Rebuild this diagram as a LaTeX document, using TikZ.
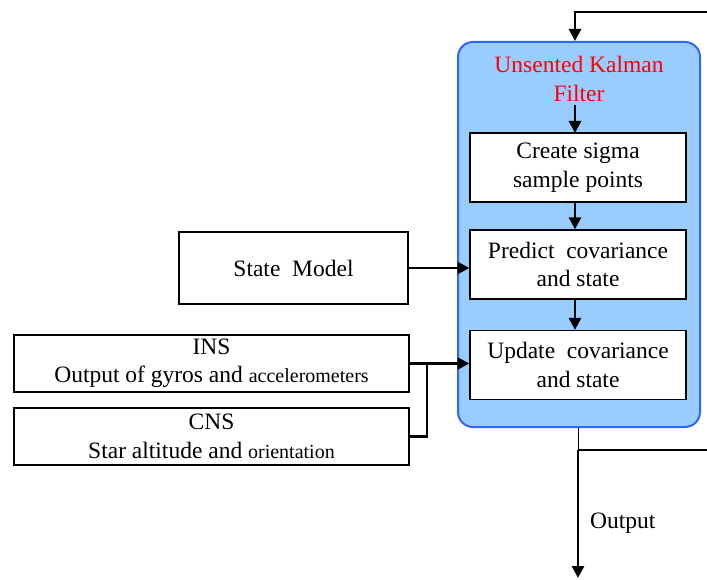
\documentclass[tikz,border=0pt]{standalone}
\usepackage{fontspec}
\setmainfont{Liberation Serif}
\usetikzlibrary{arrows.meta}
\definecolor{ukffill}{HTML}{99CCFF}
\definecolor{ukfdraw}{HTML}{3366FF}
\tikzset{
  txt/.style={font=\fontsize{23.5}{28.5}\selectfont, align=center},
  innerbox/.style={draw, line width=1.2pt, fill=white, minimum width=216pt, minimum height=69pt, txt, inner sep=0pt},
  srcbox/.style={draw, line width=1.2pt, fill=white, minimum width=395pt, minimum height=57pt, txt, inner sep=0pt},
  arr/.style={line width=2.8pt, -{Triangle[length=12pt,width=12pt]}},
  ln/.style={line width=2.8pt},
}
\begin{document}
\begin{tikzpicture}[x=1pt,y=-1pt]
\useasboundingbox (0,0) rectangle (707,580);
\node[draw=ukfdraw, line width=2pt, fill=ukffill, rounded corners=15pt, minimum width=242pt, minimum height=385pt, inner sep=0pt] (ukf) at (579,234.5) {};
\node[txt, text=red] (title) at (579,79) {Unsented Kalman\\Filter};
\node[innerbox] (b1) at (578,167.5) {Create sigma\\sample points};
\node[innerbox] (b2) at (578,264.5) {Predict\ \ covariance\\and state};
\node[innerbox] (b3) at (578,365) {Update\ \ covariance\\and state};
\node[draw, line width=1.8pt, minimum width=229pt, minimum height=72pt, txt, inner sep=0pt] (sm) at (293.5,268) {State\ \ Model};
\node[srcbox] (ins) at (211.5,363.5) {INS\\Output of gyros and {\fontsize{20}{28}\selectfont accelerometers}};
\node[srcbox] (cns) at (211.5,436.5) {CNS\\Star altitude and {\fontsize{20}{28}\selectfont orientation}};
\coordinate (tr) at (707,12);
\coordinate (ts) at (575,12);
\coordinate (ot) at (578,450);
\coordinate (or) at (707,450);
\coordinate (ob) at (578,578);
\coordinate (j) at (427,363.5);
\draw[arr] (tr) -- (ts) -- (ts |- ukf.north);
\draw[arr] (575,105) -- (575 ,133);
\draw[arr] (b1.south -| 575,0) -- (b2.north -| 575,0);
\draw[arr] (b2.south -| 575,0) -- (b3.north -| 575,0);
\draw[arr] (sm.east) -- (b2.west |- sm.east);
\draw[arr] (ins.east |- j) -- (b3.west |- j);
\draw[ln] (cns.east) -- (cns.east -| j) -- (j);
\draw[line width=1pt] (ukf.south -| ot) -- (ot);
\draw[arr] (ot) -- (ob);
\draw[ln] (ot) -- (or);
\node[font=\fontsize{23.5}{26}\selectfont, anchor=west, inner sep=0pt] (out) at (590,523) {Output};
\end{tikzpicture}
\end{document}
